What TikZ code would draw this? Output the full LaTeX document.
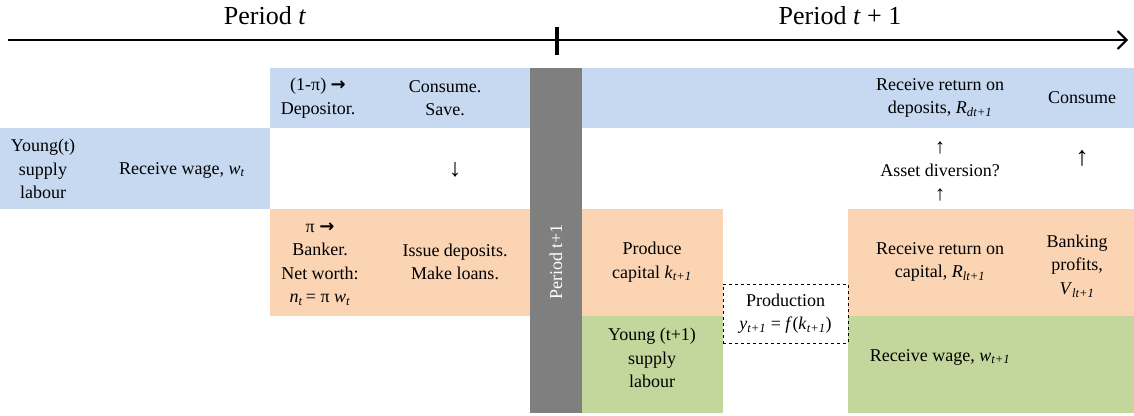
\documentclass[tikz,border=0pt]{standalone}
\usepackage{fontspec}
\setmainfont{Liberation Serif}
\newfontfamily\symfont{DejaVu Sans}
\usetikzlibrary{arrows.meta}

\definecolor{bandblue}{HTML}{C6D9F0}
\definecolor{bandorange}{HTML}{FBD4B4}
\definecolor{bandgreen}{HTML}{C3D69B}
\definecolor{bargray}{HTML}{7F7F7F}

% italic variable with italic subscript
\newcommand{\iv}[2]{\textit{#1}\textsubscript{\textit{#2}}}
\newcommand{\rarr}{{\symfont\bfseries →}}
% larger vertical arrows used as flow markers
\newcommand{\bigup}[1]{{\fontsize{#1}{#1}\selectfont ↑}}
\newcommand{\bigdown}[1]{{\fontsize{#1}{#1}\selectfont ↓}}

\tikzset{
  cell/.style={align=center, inner sep=0pt, font=\fontsize{18}{23.5}\selectfont},
  title/.style={inner sep=0pt, font=\fontsize{26}{30}\selectfont},
  blue/.style={fill=bandblue},
  orange/.style={fill=bandorange},
  green/.style={fill=bandgreen},
}

\begin{document}
\begin{tikzpicture}[x=1pt, y=-1pt]
\useasboundingbox (0,0) rectangle (1134,415);

% coloured bands
\fill[blue]   (270,68)  rectangle (530,128);
\fill[blue]   (582,68)  rectangle (1134,128);
\fill[blue]   (0,128)   rectangle (270,209);
\fill[orange] (270,209) rectangle (530,316);
\fill[orange] (582,209) rectangle (723,316);
\fill[green]  (582,316) rectangle (723,413);
\fill[orange] (848,209) rectangle (1134,316);
\fill[green]  (848,316) rectangle (1134,413);

% period separator bar
\node[fill=bargray, minimum width=52pt, minimum height=345pt, inner sep=0pt,
      anchor=north west] (bar) at (530,68) {};
\node[rotate=90, text=white, font=\fontsize{18}{20}\selectfont,
      inner sep=0pt] (barlabel) at (556,262) {Period t+1};

% timeline
\coordinate (tstart) at (8,40);
\coordinate (tend) at (1128,40);
\coordinate (ticktop) at (557,27);
\coordinate (tickbot) at (557,55);
\draw[line width=2.6pt, -{Straight Barb[length=9pt, width=18pt, line width=2pt]}]
  (tstart) -- (tend);
\draw[line width=4pt] (ticktop) -- (tickbot);
\node[title] (pt) at (265,16) {Period \textit{t}};
\node[title] (pt1) at (840,16) {Period \textit{t} + 1};

% period t
\node[cell] (dep) at (318,98) {(1-π) \rarr\\Depositor.};
\node[cell] (cons) at (445,98) {Consume.\\Save.};
\node[cell] (young) at (43,169) {Young(t)\\supply\\labour};
\node[cell] (wage) at (182,170) {Receive wage, \iv{w}{t}};
\node[cell] (down) at (455,170) {\bigdown{25}};
\node[cell] (bank) at (320,264) {π \rarr\\Banker.\\Net worth:\\\iv{n}{t}\,= π \textit{w}\textsubscript{\textit{t}}};
\node[cell] (issue) at (455,262) {Issue deposits.\\Make loans.};

% period t+1
\node[cell] (prod) at (652,262) {Produce\\capital \iv{k}{t+1}};
\node[cell] (young1) at (652,358) {Young (t+1)\\supply\\labour};
\node[cell, draw, dashed, line width=0.8pt, minimum width=125pt, minimum height=59pt]
  (output) at (785.5,313.5) {Production\\\iv{y}{t+1} = \textit{f}(\iv{k}{t+1})};
\node[cell] (retk) at (940,262) {Receive return on\\capital, \iv{R}{lt+1}};
\node[cell] (profit) at (1077,266) {Banking\\profits,\\\iv{V}{lt+1}};
\node[cell] (wage1) at (940,357) {Receive wage, \iv{w}{t+1}};
\node[cell] (retd) at (940,98) {Receive return on\\deposits, \iv{R}{dt+1}};
\node[cell] (cons1) at (1082,98) {Consume};
\node[cell] (divert) at (940,171) {\bigup{21}\\Asset diversion?\\\bigup{21}};
\node[cell] (up) at (1082,158) {\bigup{27}};
\end{tikzpicture}
\end{document}
